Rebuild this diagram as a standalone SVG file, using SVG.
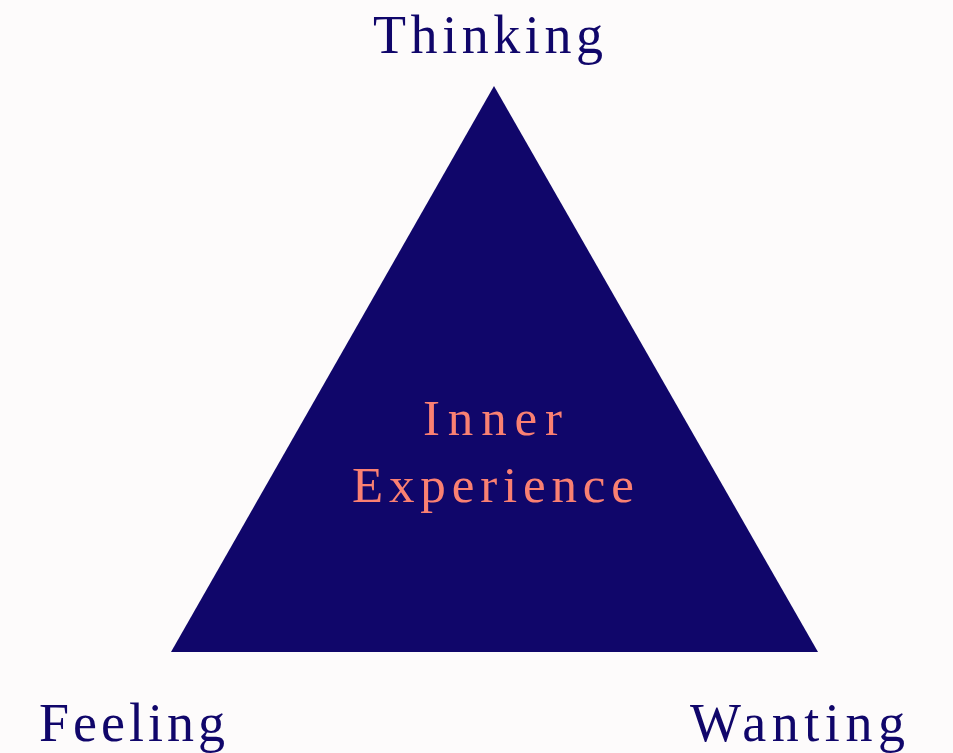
<svg xmlns="http://www.w3.org/2000/svg" width="953" height="753" viewBox="0 0 953 753">
<style>
.lbl{font-family:"Liberation Serif","DejaVu Serif",serif;font-size:54px;fill:#10066a}
.inner{font-family:"Liberation Serif","DejaVu Serif",serif;font-size:51px;fill:#fa8072}
</style>
<rect width="953" height="753" fill="#fdfbfb"/>
<g id="triangle">
<polygon points="494,86 171,652 818,652" fill="#10066a"/>
<text class="inner" x="423" y="435" textLength="139" lengthAdjust="spacing">Inner</text>
<text class="inner" x="352" y="502" textLength="282" lengthAdjust="spacing">Experience</text>
</g>
<g id="thinking"><text class="lbl" x="373" y="53" textLength="230" lengthAdjust="spacing">Thinking</text></g>
<g id="feeling"><text class="lbl" x="39" y="741" textLength="186" lengthAdjust="spacing">Feeling</text></g>
<g id="wanting"><text class="lbl" x="690" y="741" textLength="215" lengthAdjust="spacing">Wanting</text></g>
<g id="connectors"/>
</svg>
